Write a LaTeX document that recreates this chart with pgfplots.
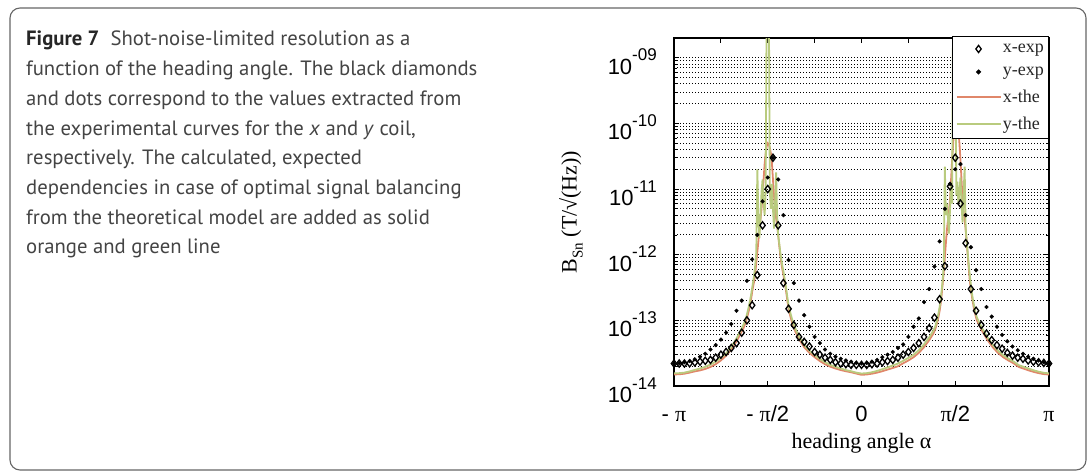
\documentclass[border=0pt]{standalone}
\usepackage{fontspec}
\setmainfont{Liberation Sans}
\newfontfamily\tms{Liberation Serif}
\newfontfamily\capf{PT Sans}
\usepackage{pgfplots}
\pgfplotsset{compat=1.18}
\definecolor{xthe}{HTML}{E0876A}
\definecolor{ythe}{HTML}{B9CB7E}
\definecolor{capgray}{HTML}{444444}
\newcommand\ytl[1]{\fontsize{22}{22}\selectfont 10\raisebox{13.5pt}{\fontsize{17}{17}\selectfont #1}}
\newcommand\pii{{\tms π}}
\begin{document}
\begin{tikzpicture}[x=1pt,y=1pt]
\path[use as bounding box] (0,0) rectangle (1092,472);
\draw[rounded corners=10pt, draw=black!60, line width=1.1pt] (10,2) rectangle (1086,464);
\node[anchor=north west, align=left, inner sep=0pt, text=capgray, font=\capf\fontsize{20.7}{29.7}\selectfont] at (26,441)
{{\bfseries\color{black!85}Figure 7}\hspace{0.55em}Shot-noise-limited resolution as a\\
function of the heading angle. The black diamonds\\
and dots correspond to the values extracted from\\
the experimental curves for the \textit{x} and \textit{y} coil,\\
respectively. The calculated, expected\\
dependencies in case of optimal signal balancing\\
from the theoretical model are added as solid\\
orange and green line};
\begin{axis}[
  at={(674pt,86pt)}, anchor=south west,
  width=375pt, height=348pt, scale only axis,
  xmin=-180, xmax=180,
  ymode=log, ymin=1e-14, ymax=2e-9,
  axis line style={line width=1.1pt, black},
  xtick={-180,-135,-90,-45,0,45,90,135,180},
  xticklabels={- \pii,,- \pii/2,,0,,\pii/2,,\pii},
  ytick={1e-14,1e-13,1e-12,1e-11,1e-10,1e-9},
  yticklabels={\ytl{-14},\ytl{-13},\ytl{-12},\ytl{-11},\ytl{-10},\ytl{-09}},
  tick align=inside,
  major tick length=5pt, minor tick length=3pt,
  tick style={black, line width=0.8pt},
  xticklabel style={font=\fontsize{22}{22}\selectfont, anchor=base, yshift=-35.5pt, inner sep=0pt},
  yticklabel style={anchor=base east, inner sep=0pt, xshift=-17pt, yshift=-16.5pt},
  ymajorgrids, yminorgrids,
  major grid style={black, line width=1pt, dash pattern=on 1.3pt off 1.7pt},
  minor grid style={black, line width=1pt, dash pattern=on 1.3pt off 1.7pt},
  xlabel={heading angle α},
  xlabel style={font=\tms\fontsize{22}{22}\selectfont, at={(axis description cs:0.5,0)}, anchor=base, yshift=-62pt},
  ylabel={B\raisebox{-6pt}{\fontsize{15}{15}\selectfont Sn} (T/√(Hz))},
  ylabel style={font=\tms\fontsize{22}{22}\selectfont, at={(axis description cs:-0.2595,0.5)}, anchor=base},
  legend style={at={(1.0,1.006)}, anchor=north east, draw=black, line width=1.1pt, fill=white,
    font=\tms\fontsize{18}{18}\selectfont, inner xsep=3pt, inner ysep=6pt, row sep=10pt,
    nodes={inner sep=1.5pt, text=black!85}},
  legend cell align=left,
  legend image code/.code={\draw[mark repeat=2,mark phase=2,#1] plot coordinates {(0pt,0pt) (22pt,0pt) (44pt,0pt)};},
]
% x-exp
\addplot[black, only marks, mark=diamond, mark size=3.6pt, mark options={line width=1.3pt, fill=none}] coordinates {
(-180,2.2e-14)(-175,2.2e-14)(-170,2.2e-14)(-165,2.22e-14)(-160,2.28e-14)(-155,2.35e-14)(-150,2.42e-14)(-145,2.5e-14)
(-140,2.7e-14)(-135,3e-14)(-130,3.3e-14)(-125,3.8e-14)(-120,4.5e-14)(-115,6.5e-14)(-110,1e-13)(-105,1.7e-13)
(-100,4.9e-13)(-95,2.8e-12)(-90,1e-11)(-85,3e-11)(-80,2.8e-12)(-75,3.7e-13)(-70,1.5e-13)(-65,8.5e-14)
(-60,5.6e-14)(-55,4.7e-14)(-50,4e-14)(-45,3.3e-14)(-40,3e-14)(-35,2.7e-14)(-30,2.5e-14)(-25,2.3e-14)
(-20,2.2e-14)(-15,2.15e-14)(-10,2.1e-14)(-5,2.1e-14)(0,2.1e-14)(5,2.1e-14)(10,2.15e-14)(15,2.2e-14)
(20,2.3e-14)(25,2.4e-14)(30,2.5e-14)(35,2.7e-14)(40,3e-14)(45,3.3e-14)(50,3.8e-14)(55,4.5e-14)
(60,5.6e-14)(65,7.6e-14)(70,1.1e-13)(75,2.1e-13)(80,6.7e-13)(85,1.1e-11)(90,3e-11)(95,6e-12)
(100,1.5e-12)(105,3e-13)(110,1.4e-13)(115,8.5e-14)(120,6.3e-14)(125,5e-14)(130,4.2e-14)(135,3.7e-14)
(140,3.2e-14)(145,2.9e-14)(150,2.7e-14)(155,2.6e-14)(160,2.45e-14)(165,2.35e-14)(170,2.3e-14)(175,2.25e-14)(180,2.2e-14)};
\addlegendentry{x-exp}
% y-exp
\addplot[black, only marks, mark=*, mark size=1.9pt] coordinates {
(-180,2.2e-14)(-175,2.22e-14)(-170,2.3e-14)(-165,2.4e-14)(-160,2.55e-14)(-155,2.8e-14)(-150,3.1e-14)(-145,3.6e-14)
(-140,4.2e-14)(-135,5.1e-14)(-130,6.5e-14)(-125,8.8e-14)(-120,1.4e-13)(-115,2e-13)(-110,4e-13)(-105,8.5e-13)
(-100,2e-12)(-95,6.5e-12)(-90,1.5e-11)(-85,3e-11)(-80,1.4e-11)(-75,4e-12)(-70,8.3e-13)(-65,3.7e-13)
(-60,2e-13)(-55,1.2e-13)(-50,8e-14)(-45,5.6e-14)(-40,4.5e-14)(-35,3.6e-14)(-30,3.1e-14)(-25,2.8e-14)
(-20,2.6e-14)(-15,2.45e-14)(-10,2.35e-14)(-5,2.25e-14)(0,2.2e-14)(5,2.25e-14)(10,2.35e-14)(15,2.5e-14)
(20,2.75e-14)(25,3e-14)(30,3.3e-14)(35,3.8e-14)(40,4.3e-14)(45,5.6e-14)(50,8e-14)(55,1.07e-13)
(60,1.9e-13)(65,3e-13)(70,6.6e-13)(75,1.6e-12)(80,5e-12)(85,1.2e-11)(90,2e-11)(95,2.4e-11)
(100,4e-12)(105,1.3e-12)(110,5.8e-13)(115,3e-13)(120,1.6e-13)(125,1.14e-13)(130,8e-14)(135,6e-14)
(140,4.8e-14)(145,4e-14)(150,3.5e-14)(155,3.1e-14)(160,2.8e-14)(165,2.6e-14)(170,2.45e-14)(175,2.3e-14)(180,2.2e-14)};
\addlegendentry{y-exp}
% x-the
\addplot[xthe, line width=1.8pt, no marks] coordinates {
(-180,1.5e-14)(-175,1.51e-14)(-170,1.54e-14)(-165,1.6e-14)(-160,1.67e-14)(-155,1.73e-14)(-150,1.82e-14)(-145,1.95e-14)
(-140,2.15e-14)(-135,2.45e-14)(-130,2.9e-14)(-125,3.6e-14)(-120,4.8e-14)(-116,6.3e-14)(-113,7.8e-14)(-111,9.5e-14)
(-110,1.08e-13)(-109,1.25e-13)(-108,1.45e-13)(-107,1.7e-13)(-106,2.1e-13)(-105,2.7e-13)(-104,3.3e-13)(-103,4e-13)
(-102,5.2e-13)(-101,7.5e-13)(-100,1.1e-12)(-99,1.6e-12)(-98,2.4e-12)(-97,3.4e-12)(-96,5e-12)(-95,8e-12)
(-94,1.4e-11)(-93,2.4e-11)(-92,3.5e-11)(-91,4.5e-11)(-90,5e-11)(-89,4.8e-11)(-88,4.2e-11)(-87,3.5e-11)
(-86,2.5e-11)(-85,1.4e-11)(-84,8e-12)(-83,5e-12)(-82,3.6e-12)(-81,2.8e-12)(-80,2e-12)(-79,1.4e-12)
(-78,1e-12)(-77,7.5e-13)(-76,6e-13)(-75,5e-13)(-74,4e-13)(-73,3.2e-13)(-72,2.5e-13)(-71,1.9e-13)
(-70,1.5e-13)(-68,1.1e-13)(-66,8.5e-14)(-63,6.5e-14)(-60,5.2e-14)(-55,3.9e-14)(-50,3.2e-14)(-45,2.75e-14)
(-40,2.4e-14)(-35,2.15e-14)(-30,1.97e-14)(-25,1.85e-14)(-20,1.75e-14)(-15,1.68e-14)(-10,1.62e-14)(-5,1.55e-14)
(0,1.48e-14)(5,1.5e-14)(10,1.54e-14)(15,1.6e-14)(20,1.68e-14)(25,1.78e-14)(30,1.88e-14)(35,2e-14)
(40,2.22e-14)(45,2.45e-14)(50,2.75e-14)(55,3.2e-14)(60,3.9e-14)(65,5e-14)(69,6.3e-14)(71,7.5e-14)
(72,8.5e-14)(73,9.8e-14)(74,1.15e-13)(75,1.4e-13)(76,1.8e-13)(77,2.5e-13)(78,3.7e-13)(79,5.5e-13)
(80,9e-13)(81,1.5e-12)(82,2.4e-12)(83,3.4e-12)(84,4.6e-12)(85,7e-12)(86,1.4e-11)(87,2.8e-11)
(88,5e-11)(89,8e-11)(90,1.05e-10)(91,1.15e-10)(92,1.05e-10)(93,8e-11)(94,5e-11)(95,2.8e-11)
(96,1.4e-11)(97,7e-12)(98,4.6e-12)(99,3.4e-12)(100,2.4e-12)(101,1.6e-12)(102,9.5e-13)(103,6e-13)
(104,4e-13)(105,3e-13)(106,2.3e-13)(107,1.85e-13)(108,1.5e-13)(109,1.28e-13)(110,1.1e-13)(111,9.8e-14)
(113,8.5e-14)(116,6.8e-14)(121,5e-14)(126,3.9e-14)(131,3.2e-14)(136,2.75e-14)(141,2.45e-14)(146,2.22e-14)
(151,1.95e-14)(156,1.83e-14)(161,1.72e-14)(166,1.63e-14)(171,1.56e-14)(176,1.51e-14)(180,1.5e-14)};
\addlegendentry{x-the}
% y-the
\addplot[ythe, line width=1.8pt, no marks] coordinates {
(-180,1.56e-14)(-175,1.57e-14)(-170,1.6e-14)(-165,1.67e-14)(-160,1.76e-14)(-155,1.85e-14)(-150,1.96e-14)(-145,2.12e-14)
(-140,2.35e-14)(-135,2.68e-14)(-130,3.15e-14)(-125,3.95e-14)(-120,5.3e-14)(-116,7e-14)(-113,8.8e-14)(-111,1.08e-13)
(-110,1.23e-13)(-109,1.43e-13)(-108,1.68e-13)(-107,2e-13)(-106,2.45e-13)(-105,3.1e-13)(-104,3.9e-13)(-103,5e-13)
(-102,7e-13)(-101,1.1e-12)(-100,2e-11)(-99,4e-12)(-98,1.8e-12)(-97,3.5e-12)(-96,9e-12)(-95,1.4e-11)
(-94,6e-12)(-93,4e-12)(-92,9e-12)(-91,1e-8)(-90,1e-7)(-89,1e-8)(-88,9e-12)(-87,5e-12)
(-86,1.2e-11)(-85,5e-12)(-84,2.5e-12)(-83,6e-12)(-82,1.8e-11)(-81,4e-12)(-80,2e-12)(-79,1.5e-12)
(-78,1.1e-12)(-77,8.5e-13)(-76,6.8e-13)(-75,5.6e-13)(-74,4.5e-13)(-73,3.6e-13)(-72,2.8e-13)(-71,2.15e-13)
(-70,1.7e-13)(-68,1.25e-13)(-66,9.5e-14)(-63,7.2e-14)(-60,5.7e-14)(-55,4.2e-14)(-50,3.45e-14)(-45,2.95e-14)
(-40,2.58e-14)(-35,2.3e-14)(-30,2.1e-14)(-25,1.96e-14)(-20,1.85e-14)(-15,1.75e-14)(-10,1.68e-14)(-5,1.6e-14)
(0,1.55e-14)(5,1.57e-14)(10,1.62e-14)(15,1.7e-14)(20,1.8e-14)(25,1.92e-14)(30,2.05e-14)(35,2.2e-14)
(40,2.42e-14)(45,2.68e-14)(50,3e-14)(55,3.5e-14)(60,4.3e-14)(65,5.5e-14)(69,7e-14)(71,8.2e-14)
(72,9.4e-14)(73,1.1e-13)(74,1.3e-13)(75,1.6e-13)(76,2.1e-13)(77,2.9e-13)(78,4.3e-13)(79,7e-13)
(80,2.2e-11)(81,4e-12)(82,6e-12)(83,3.5e-12)(84,2.1e-12)(85,5e-12)(86,1.2e-11)(87,6e-12)
(88,1e-8)(89,1e-7)(90,1e-8)(91,8e-12)(92,1.3e-11)(93,6e-12)(94,9e-12)(95,1.5e-11)
(96,6e-12)(97,3.1e-12)(98,8e-12)(99,2.2e-11)(100,2.5e-12)(101,1.6e-12)(102,1.05e-12)(103,7e-13)
(104,4.8e-13)(105,3.5e-13)(106,2.6e-13)(107,2.05e-13)(108,1.68e-13)(109,1.42e-13)(110,1.22e-13)(111,1.08e-13)
(113,9.3e-14)(116,7.5e-14)(121,5.5e-14)(126,4.25e-14)(131,3.45e-14)(136,2.95e-14)(141,2.62e-14)(146,2.36e-14)
(151,2.08e-14)(156,1.95e-14)(161,1.83e-14)(166,1.72e-14)(171,1.64e-14)(176,1.58e-14)(180,1.56e-14)};
\addlegendentry{y-the}
\end{axis}
\end{tikzpicture}
\end{document}
